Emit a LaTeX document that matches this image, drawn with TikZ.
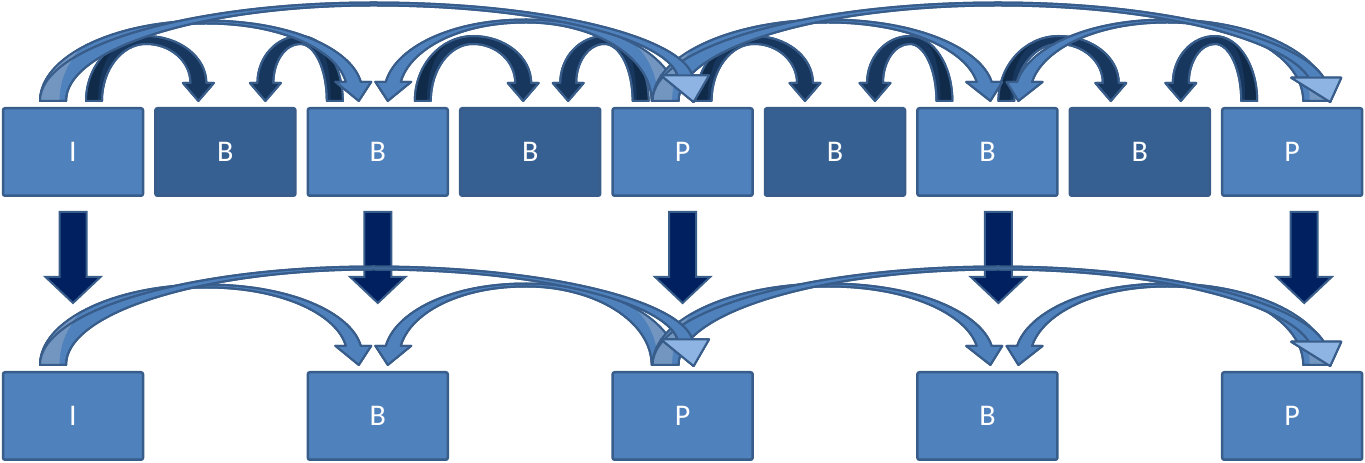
\documentclass[tikz,border=0pt]{standalone}
\usepackage{fontspec}
\setmainfont{Carlito}
\usetikzlibrary{positioning, calc}

\definecolor{boxlight}{HTML}{4F81BD}
\definecolor{boxdark}{HTML}{376092}
\definecolor{edgeblue}{HTML}{385D8A}
\definecolor{shortblue}{HTML}{17375E}
\definecolor{shortunder}{HTML}{102A4A}
\definecolor{longunder}{HTML}{7396C0}
\definecolor{downblue}{HTML}{002060}
\definecolor{headlight}{HTML}{8EB4E3}

\newdimen\bentfx \newdimen\bentfy \newdimen\benttx \newdimen\bentty
\def\bentTop{8}% band thickness at the top of the arc
\def\bentUnder{shortunder}% colour of the visible back of the band
\def\bentUnderX{\bnFo}% how far the back reaches
% curved block arrow: style, foot, tip, height, tip angle, foot width, end width, head half width, head length
\newcommand{\bentarrow}[9]{%
  \path #2 coordinate (bentF) #3 coordinate (bentT);
  \pgfextractx{\bentfx}{\pgfpointanchor{bentF}{center}}%
  \pgfextracty{\bentfy}{\pgfpointanchor{bentF}{center}}%
  \pgfextractx{\benttx}{\pgfpointanchor{bentT}{center}}%
  \pgfextracty{\bentty}{\pgfpointanchor{bentT}{center}}%
  \pgfmathsetmacro\bnS{sign(\benttx-\bentfx)}%
  \pgfmathsetmacro\bnD{abs(\benttx-\bentfx)/2}%
  \pgfmathsetmacro\bnCx{(\benttx+\bentfx)/2}%
  \pgfmathsetmacro\bnCy{\bentfy}%
  \pgfmathsetmacro\bnTy{\bentty-\bentfy}%
  \pgfmathsetmacro\bnVx{cos(#5)}%
  \pgfmathsetmacro\bnVy{sin(#5)}%
  \pgfmathsetmacro\bnMx{\bnD-(#9)*(\bnVx)}%
  \pgfmathsetmacro\bnMy{\bnTy-(#9)*(\bnVy)}%
  \pgfmathsetmacro\bnHo{#4+\bentTop/2}%
  \pgfmathsetmacro\bnHi{#4-\bentTop/2}%
  \pgfmathsetmacro\bnFo{\bnD+(#6)/2}%
  \pgfmathsetmacro\bnFi{\bnD-(#6)/2}%
  \pgfmathsetmacro\bnOx{\bnMx+(#7)/2}%
  \pgfmathsetmacro\bnIx{\bnMx-(#7)/2}%
  \pgfmathsetmacro\bnBox{\bnMx+(#8)}%
  \pgfmathsetmacro\bnBix{\bnMx-(#8)}%
  \pgfmathsetmacro\bnKo{0.5523*(\bnHo-\bnMy)}%
  \pgfmathsetmacro\bnKi{0.5523*(\bnHi-\bnMy)}%
  \pgfmathsetmacro\bnCox{\bnOx-(\bnKo)*(\bnVx)}%
  \pgfmathsetmacro\bnCoy{\bnMy-(\bnKo)*(\bnVy)}%
  \pgfmathsetmacro\bnCix{\bnIx-(\bnKi)*(\bnVx)}%
  \pgfmathsetmacro\bnCiy{\bnMy-(\bnKi)*(\bnVy)}%
  \pgfmathsetmacro\bnUx{min(\bentUnderX,\bnFo)}%
  \pgfmathsetmacro\bnUy{\bnHo*sqrt(1-(1-\bnUx/\bnFo)^2)}%
  \pgfmathsetmacro\bnUw{0.75*(#6)}%
  \def\bnPath{(-\bnFo,0) .. controls (-\bnFo,0.5523*\bnHo) and (-0.5523*\bnFo,\bnHo) .. (0,\bnHo)
      .. controls (0.5523*\bnOx,\bnHo) and (\bnCox,\bnCoy) .. (\bnOx,\bnMy)
      -- (\bnBox,\bnMy) -- (\bnD,\bnTy) -- (\bnBix,\bnMy) -- (\bnIx,\bnMy)
      .. controls (\bnCix,\bnCiy) and (0.5523*\bnIx,\bnHi) .. (0,\bnHi)
      .. controls (-0.5523*\bnFi,\bnHi) and (-\bnFi,0.5523*\bnHi) .. (-\bnFi,0) -- cycle}%
  \begin{scope}[shift={(\bnCx pt,\bnCy pt)}, xscale=\bnS]
    \filldraw[#1] \bnPath;
    \begin{scope}
      \clip \bnPath;
      \fill[\bentUnder] (-\bnFo-10,-10) -- (-\bnFo+\bnUw,-10) -- (-\bnFo+\bnUw,0)
        .. controls (-\bnFo+\bnUw,0.5*\bnUy) and (-\bnFo+0.4*\bnUx,\bnUy) .. (-\bnFo+\bnUx,\bnUy)
        -- (-\bnFo+\bnUx,\bnHo+20) -- (-\bnFo-10,\bnHo+20) -- cycle;
    \end{scope}
    \draw[#1, fill=none] \bnPath;
    \coordinate (bentBo) at (\bnBox,\bnMy);
    \coordinate (bentBi) at (\bnBix,\bnMy);
  \end{scope}
}

\begin{document}
\begin{tikzpicture}[x=1pt, y=1pt,
    lightbox/.style={draw=edgeblue, fill=boxlight, line width=2.5pt, rounded corners=2pt, minimum width=140pt, minimum height=87.5pt, text=white, font=\fontsize{30}{36}\selectfont},
    darkbox/.style={lightbox, fill=boxdark},
    downarrow/.style={draw=edgeblue, fill=downblue, line width=2pt},
    shortarrow/.style={draw=edgeblue, fill=shortblue, line width=2pt, line join=round},
    longarrow/.style={draw=edgeblue, fill=boxlight, line width=2pt, line join=round},
    lighthead/.style={draw=edgeblue, fill=headlight, line width=2pt, line join=round}]
    \useasboundingbox (0,0) rectangle (1365,463);
    % Define nodes
    \node[lightbox] (t1) at (73,311) {I};
    \node[darkbox, right=9.9pt of t1] (t2) {B};
    \node[lightbox, right=9.9pt of t2] (t3) {B};
    \node[darkbox, right=9.9pt of t3] (t4) {B};
    \node[lightbox, right=9.9pt of t4] (t5) {P};
    \node[darkbox, right=9.9pt of t5] (t6) {B};
    \node[lightbox, right=9.9pt of t6] (t7) {B};
    \node[darkbox, right=9.9pt of t7] (t8) {B};
    \node[lightbox, right=9.9pt of t8] (t9) {P};
    \node[lightbox, below=174pt of t1] (b1) {I};
    \node[lightbox] (b3) at (t3 |- b1) {B};
    \node[lightbox] (b5) at (t5 |- b1) {P};
    \node[lightbox] (b7) at (t7 |- b1) {B};
    \node[lightbox] (b9) at (t9 |- b1) {P};
    % down arrows
    \foreach \c/\dx in {1/0, 3/0, 5/0, 7/11, 9/12}
        \filldraw[downarrow] ($(t\c.south)+(\dx-13.5,-15)$) -- ++(27,0) -- ++(0,-65) -- ++(14,0) -- ++(-27.5,-26) -- ++(-27.5,26) -- ++(14,0) -- cycle;
    % references of the B frames in between
    \foreach \f/\fx/\t/\tx in {t1/21/t2/-27, t3/-43/t2/40, t3/45/t4/-7, t5/-42/t4/38, t5/21/t6/-30, t7/-43/t6/40, t7/19/t8/-29, t9/-43/t8/41} {
        \bentarrow{shortarrow}{($(\f.north)+(\fx,6)$)}{($(\t.north)+(\tx,6)$)}{61}{-90}{16}{16}{15.5}{18}
    }
    % long references, both rows
    \def\bentTop{3}
    \def\bentUnder{longunder}
    \def\bentUnderX{110}
    \foreach \r in {t,b} {
        \bentarrow{longarrow}{($(\r1.north)+(-20,6)$)}{($(\r3.north)+(-19,6)$)}{79}{-74}{26}{15}{18}{20}
        \bentarrow{longarrow}{($(\r5.north)+(-18,6)$)}{($(\r3.north)+(10,6)$)}{80}{-74}{26}{15}{18}{20}
        \bentarrow{longarrow}{($(\r5.north)+(-17,6)$)}{($(\r7.north)+(3,6)$)}{80}{-72}{26}{15}{18}{20}
        \bentarrow{longarrow}{($(\r9.north)+(24,6)$)}{($(\r7.north)+(31,6)$)}{80}{-72}{26}{15}{18}{20}
        \bentarrow{longarrow}{($(\r5.north)+(-17,6)$)}{($(\r9.north)+(38,5)$)}{97}{-60}{26}{15}{25}{28}
        \filldraw[lighthead] (bentBo) -- (bentT) -- (bentBi) -- cycle;
        \bentarrow{longarrow}{($(\r1.north)+(-20,6)$)}{($(\r5.north)+(11,5)$)}{97}{-72}{26}{15}{24}{28}
        \filldraw[lighthead] (bentBo) -- (bentT) -- (bentBi) -- cycle;
    }
\end{tikzpicture}
\end{document}
